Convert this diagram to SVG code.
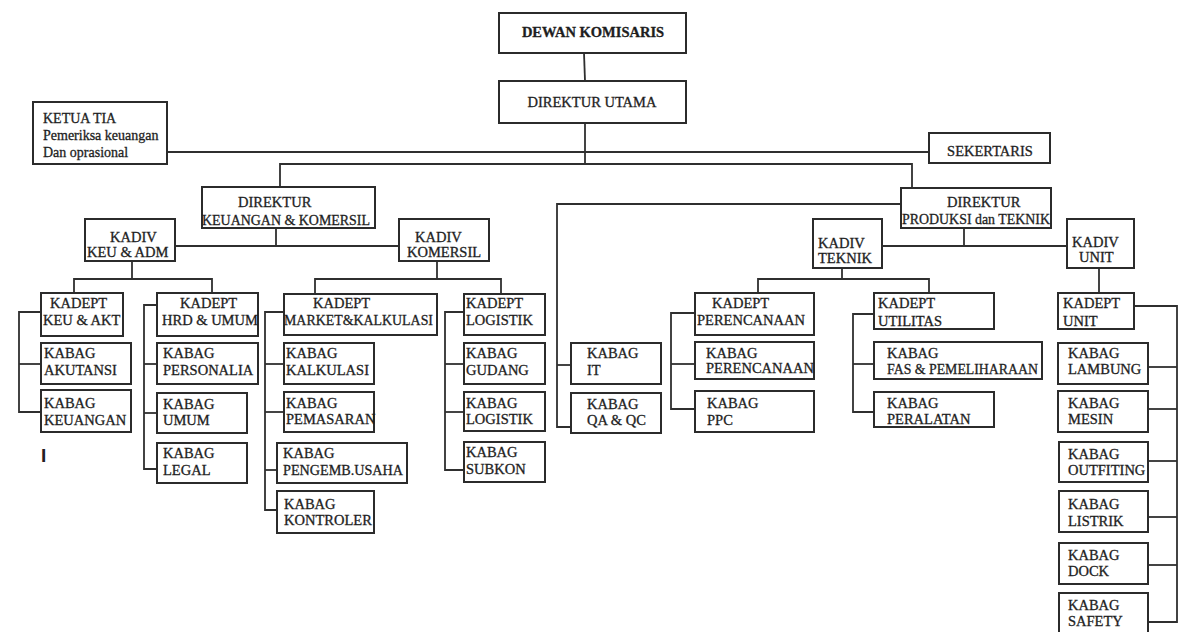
<svg xmlns="http://www.w3.org/2000/svg" width="1200" height="632" viewBox="0 0 1200 632">
<style>
rect.b{fill:#fff;stroke:#2b2b2b;stroke-width:2}
.c line,.c polyline{stroke:#2f2f2f;stroke-width:1.8;fill:none}
text{font-family:"Liberation Serif","Times New Roman",serif;font-size:14.5px;fill:#1e1e1e;stroke:#1e1e1e;stroke-width:0.3}
text.s{font-size:14px}
text.bold{font-weight:bold}
text.m{text-anchor:middle}
</style>
<rect width="1200" height="632" fill="#fff"/>
<g class="c" id="connectors">
<line x1="584" y1="53" x2="585" y2="81"/>
<line x1="585" y1="123" x2="585" y2="164"/>
<line x1="167" y1="152" x2="929" y2="152"/>
<polyline points="280,187 280,164 912,164 912,188"/>
<line x1="276" y1="228" x2="276" y2="246"/>
<line x1="175" y1="246" x2="399" y2="246"/>
<line x1="132" y1="261" x2="132" y2="279"/>
<polyline points="74,293 74,279 212,279 212,293"/>
<line x1="437" y1="261" x2="437" y2="279"/>
<polyline points="315,294 315,279 501,279 501,294"/>
<polyline points="901,204 557,204 557,427 571,427"/>
<line x1="557" y1="365" x2="571" y2="365"/>
<line x1="964" y1="228" x2="964" y2="246"/>
<line x1="882" y1="246" x2="1067" y2="246"/>
<line x1="842" y1="268" x2="842" y2="279"/>
<polyline points="758,293 758,279 929,279 929,293"/>
<line x1="1099" y1="268" x2="1099" y2="293"/>
<polyline points="41,312 19,312 19,412 41,412"/>
<line x1="19" y1="364" x2="41" y2="364"/>
<polyline points="157,305 144,305 144,469 157,469"/>
<line x1="144" y1="364" x2="157" y2="364"/>
<line x1="144" y1="413" x2="157" y2="413"/>
<polyline points="284,312 265,312 265,510 277,510"/>
<line x1="265" y1="364" x2="284" y2="364"/>
<line x1="265" y1="412" x2="284" y2="412"/>
<line x1="265" y1="470" x2="277" y2="470"/>
<polyline points="464,312 445,312 445,470 464,470"/>
<line x1="445" y1="364" x2="464" y2="364"/>
<line x1="445" y1="412" x2="464" y2="412"/>
<polyline points="695,313 671,313 671,409 695,409"/>
<line x1="671" y1="364" x2="695" y2="364"/>
<polyline points="874,314 853,314 853,412 874,412"/>
<line x1="853" y1="364" x2="874" y2="364"/>
<polyline points="1134,306 1177,306 1177,622 1148,622"/>
<line x1="1148" y1="367" x2="1177" y2="367"/>
<line x1="1148" y1="409" x2="1177" y2="409"/>
<line x1="1148" y1="461" x2="1177" y2="461"/>
<line x1="1148" y1="517" x2="1177" y2="517"/>
<line x1="1148" y1="565" x2="1177" y2="565"/>
</g>
<g id="dewan-komisaris"><rect class="b" x="499" y="13" width="187" height="40"/><text class="bold m" x="593" y="37">DEWAN KOMISARIS</text></g>
<g id="direktur-utama"><rect class="b" x="499" y="81" width="187" height="42"/><text class="m" x="592" y="107">DIREKTUR UTAMA</text></g>
<g id="ketua-tia"><rect class="b" x="33" y="102" width="134" height="62"/><text class="s" x="43" y="123">KETUA TIA</text><text class="s" x="43" y="140">Pemeriksa keuangan</text><text class="s" x="43" y="157">Dan oprasional</text></g>
<g id="sekertaris"><rect class="b" x="929" y="133" width="121" height="30"/><text class="m" x="990" y="156">SEKERTARIS</text></g>
<g id="direktur-keu"><rect class="b" x="202" y="187" width="173" height="41"/><text x="238" y="207">DIREKTUR</text><text x="202" y="225" textLength="168" lengthAdjust="spacingAndGlyphs">KEUANGAN &amp; KOMERSIL</text></g>
<g id="direktur-produksi"><rect class="b" x="901" y="188" width="150" height="40"/><text x="947" y="207">DIREKTUR</text><text x="902" y="224" textLength="148" lengthAdjust="spacingAndGlyphs">PRODUKSI dan TEKNIK</text></g>
<g id="kadiv-keu"><rect class="b" x="85" y="219" width="90" height="42"/><text x="110" y="242">KADIV</text><text x="87" y="257">KEU &amp; ADM</text></g>
<g id="kadiv-komersil"><rect class="b" x="399" y="219" width="90" height="42"/><text x="415" y="242">KADIV</text><text x="407" y="257">KOMERSIL</text></g>
<g id="kadiv-teknik"><rect class="b" x="813" y="219" width="69" height="49"/><text x="818" y="248">KADIV</text><text x="818" y="263">TEKNIK</text></g>
<g id="kadiv-unit"><rect class="b" x="1067" y="219" width="67" height="49"/><text x="1072" y="247">KADIV</text><text x="1079" y="262">UNIT</text></g>
<g id="kadept-keu-akt"><rect class="b" x="41" y="293" width="82" height="43"/><text x="50" y="308">KADEPT</text><text x="43" y="325">KEU &amp; AKT</text></g>
<g id="kabag-akutansi"><rect class="b" x="41" y="343" width="90" height="41"/><text x="44" y="358">KABAG</text><text x="44" y="375">AKUTANSI</text></g>
<g id="kabag-keuangan"><rect class="b" x="41" y="390" width="90" height="42"/><text x="44" y="408">KABAG</text><text x="44" y="425">KEUANGAN</text></g>
<g id="kadept-hrd"><rect class="b" x="157" y="293" width="101" height="43"/><text x="180" y="308">KADEPT</text><text x="162" y="325">HRD &amp; UMUM</text></g>
<g id="kabag-personalia"><rect class="b" x="157" y="343" width="101" height="41"/><text x="163" y="358">KABAG</text><text x="163" y="375">PERSONALIA</text></g>
<g id="kabag-umum"><rect class="b" x="157" y="393" width="90" height="40"/><text x="163" y="409">KABAG</text><text x="163" y="425">UMUM</text></g>
<g id="kabag-legal"><rect class="b" x="157" y="443" width="90" height="40"/><text x="163" y="458">KABAG</text><text x="163" y="475">LEGAL</text></g>
<g id="kadept-market"><rect class="b" x="284" y="294" width="153" height="41"/><text x="313" y="308">KADEPT</text><text x="284" y="325" textLength="149" lengthAdjust="spacingAndGlyphs">MARKET&amp;KALKULASI</text></g>
<g id="kabag-kalkulasi"><rect class="b" x="284" y="343" width="90" height="41"/><text x="286" y="358">KABAG</text><text x="286" y="375">KALKULASI</text></g>
<g id="kabag-pemasaran"><rect class="b" x="284" y="392" width="90" height="40"/><text x="286" y="408">KABAG</text><text x="286" y="424">PEMASARAN</text></g>
<g id="kabag-pengemb"><rect class="b" x="277" y="443" width="130" height="40"/><text x="283" y="458">KABAG</text><text x="283" y="475" textLength="120" lengthAdjust="spacingAndGlyphs">PENGEMB.USAHA</text></g>
<g id="kabag-kontroler"><rect class="b" x="277" y="491" width="97" height="42"/><text x="284" y="509">KABAG</text><text x="284" y="525">KONTROLER</text></g>
<g id="kadept-logistik"><rect class="b" x="464" y="294" width="81" height="41"/><text x="466" y="308">KADEPT</text><text x="466" y="325">LOGISTIK</text></g>
<g id="kabag-gudang"><rect class="b" x="464" y="343" width="81" height="41"/><text x="466" y="358">KABAG</text><text x="466" y="375">GUDANG</text></g>
<g id="kabag-logistik"><rect class="b" x="464" y="392" width="81" height="39"/><text x="466" y="408">KABAG</text><text x="466" y="424">LOGISTIK</text></g>
<g id="kabag-subkon"><rect class="b" x="464" y="442" width="81" height="40"/><text x="466" y="457">KABAG</text><text x="466" y="474">SUBKON</text></g>
<g id="kabag-it"><rect class="b" x="571" y="343" width="90" height="41"/><text x="587" y="358">KABAG</text><text x="587" y="375">IT</text></g>
<g id="kabag-qa"><rect class="b" x="571" y="393" width="90" height="40"/><text x="587" y="409">KABAG</text><text x="587" y="425">QA &amp; QC</text></g>
<g id="kadept-perencanaan"><rect class="b" x="695" y="293" width="119" height="42"/><text x="712" y="308">KADEPT</text><text x="697" y="325">PERENCANAAN</text></g>
<g id="kabag-perencanaan"><rect class="b" x="695" y="342" width="119" height="37"/><text x="706" y="358">KABAG</text><text x="706" y="373">PERENCANAAN</text></g>
<g id="kabag-ppc"><rect class="b" x="695" y="391" width="119" height="41"/><text x="707" y="408">KABAG</text><text x="707" y="425">PPC</text></g>
<g id="kadept-utilitas"><rect class="b" x="874" y="293" width="120" height="36"/><text x="878" y="308">KADEPT</text><text x="878" y="326">UTILITAS</text></g>
<g id="kabag-fas"><rect class="b" x="874" y="342" width="168" height="37"/><text x="887" y="358">KABAG</text><text x="887" y="374" textLength="151" lengthAdjust="spacingAndGlyphs">FAS &amp; PEMELIHARAAN</text></g>
<g id="kabag-peralatan"><rect class="b" x="874" y="392" width="120" height="35"/><text x="887" y="408">KABAG</text><text x="887" y="424">PERALATAN</text></g>
<g id="kadept-unit"><rect class="b" x="1058" y="293" width="76" height="36"/><text x="1063" y="308">KADEPT</text><text x="1063" y="326">UNIT</text></g>
<g id="kabag-lambung"><rect class="b" x="1058" y="343" width="90" height="41"/><text x="1068" y="358">KABAG</text><text x="1068" y="374">LAMBUNG</text></g>
<g id="kabag-mesin"><rect class="b" x="1058" y="391" width="90" height="41"/><text x="1068" y="408">KABAG</text><text x="1068" y="424">MESIN</text></g>
<g id="kabag-outfiting"><rect class="b" x="1059" y="442" width="89" height="40"/><text x="1068" y="459">KABAG</text><text x="1068" y="475">OUTFITING</text></g>
<g id="kabag-listrik"><rect class="b" x="1059" y="491" width="89" height="41"/><text x="1068" y="509">KABAG</text><text x="1068" y="526">LISTRIK</text></g>
<g id="kabag-dock"><rect class="b" x="1059" y="543" width="89" height="41"/><text x="1068" y="560">KABAG</text><text x="1068" y="576">DOCK</text></g>
<g id="kabag-safety"><rect class="b" x="1059" y="593" width="89" height="48"/><text x="1068" y="610">KABAG</text><text x="1068" y="626">SAFETY</text></g>
<text x="41" y="462" style="font-family:'Liberation Sans',Arial,sans-serif;font-size:19px;font-weight:bold;fill:#222;stroke:none">I</text>
</svg>
